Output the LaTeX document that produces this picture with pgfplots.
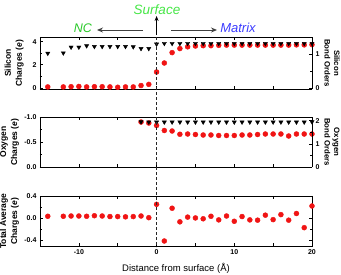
\documentclass[border=0pt]{standalone}
\usepackage{fontspec}
\setmainfont{Liberation Sans}
\usepackage{pgfplots}
\pgfplotsset{compat=1.18}
\usetikzlibrary{arrows.meta}

\definecolor{ptred}{RGB}{240,20,20}
\definecolor{ncgreen}{RGB}{40,200,40}
\definecolor{sfgreen}{RGB}{70,230,70}
\definecolor{mxblue}{RGB}{60,60,255}

\pgfplotsset{
 base/.style={scale only axis, width=272pt, xmin=-15, xmax=20, tick align=inside,
   xtick={-10,-5,...,20}, xticklabels={},
   tick label style={font=\bfseries\fontsize{7}{8}\selectfont},
   /pgf/number format/assume math mode=true,
   major tick length=3pt, minor tick length=2pt,
   axis line style={line width=0.9pt}, every tick/.style={line width=0.6pt, black},
 },
 leftlab/.style={every axis y label/.style={at={(axis description cs:#1,0.5)}, rotate=90, anchor=center,
   font=\bfseries\fontsize{8.5}{11}\selectfont, align=center}},
 rightlab/.style={every axis y label/.style={at={(axis description cs:1.074,0.5)}, rotate=-90, anchor=center,
   font=\bfseries\fontsize{7.8}{9.5}\selectfont, align=center}},
 circ/.style={only marks, mark=*, mark size=2.5pt, mark options={fill=ptred, draw=ptred}},
 tri/.style={only marks, mark=triangle*, mark size=2.4pt, mark options={fill=black, draw=black, rotate=180}},
}

\begin{document}
\begin{tikzpicture}
\useasboundingbox (0,0) rectangle (341pt,274pt);

% ---------- Panel 1: Silicon ----------
\begin{axis}[base, leftlab=-0.095, at={(40pt,185pt)}, anchor=south west, height=52pt,
  axis y line*=left, ymin=-0.1, ymax=4.4, ytick={0,2,4}, minor ytick={1,3},
  ylabel={Silicon\\Charges (\textit{e})}]
\addplot[circ] coordinates {
(-14,0.08) (-12,0.08) (-11,0.1) (-10,0.12) (-9,0.08) (-8,0.1) (-7,0.1) (-6,0.08)
(-5,0.05) (-4,0.08) (-3,0.08) (-2,0.2) (-1,0.3) (0,1.37) (1,2.15) (2,3.05) (3,3.4)
(4,3.55) (5,3.62) (6,3.65) (7,3.65) (8,3.68) (9,3.7) (10,3.7) (11,3.7) (12,3.7)
(13,3.7) (14,3.7) (15,3.7) (16,3.7) (17,3.7) (18,3.72) (19,3.72) (20,3.74)};
\end{axis}
\begin{axis}[base, rightlab, at={(40pt,185pt)}, anchor=south west, height=52pt,
  axis y line*=right, axis x line=none, ymin=-0.03, ymax=1.5, ytick={0,1}, minor ytick={0.5},
  ylabel={Silicon\\Bond Orders}]
\addplot[tri] coordinates {
(-14,1.02) (-12,1.03) (-11,1.2) (-10,1.2) (-9,1.24) (-8,1.22) (-7,1.22) (-6,1.22)
(-5,1.22) (-4,1.22) (-3,1.21) (-2,1.16) (-1,1.16) (0,1.29) (1,1.31) (2,1.31) (3,1.31)
(4,1.31) (5,1.31) (6,1.31) (7,1.31) (8,1.31) (9,1.31) (10,1.31) (11,1.31) (12,1.31)
(13,1.31) (14,1.31) (15,1.31) (16,1.31) (17,1.31) (18,1.31) (19,1.31) (20,1.31)};
\end{axis}

% ---------- Panel 2: Oxygen ----------
\begin{axis}[base, leftlab=-0.112, at={(40pt,107pt)}, anchor=south west, height=50pt,
  axis y line*=left, y dir=reverse, ymin=-1.0, ymax=0.0, ytick={-1,-0.5,0}, minor ytick={-0.75,-0.25},
  yticklabels={-1.0,-0.5,0.0},
  ylabel={Oxygen\\Charges (\textit{e})}]
\addplot[circ] coordinates {
(-2,-0.9) (-1,-0.88) (0,-0.83) (1,-0.73) (2,-0.72) (3,-0.655) (4,-0.66) (5,-0.65)
(6,-0.64) (7,-0.64) (8,-0.63) (9,-0.63) (10,-0.63) (11,-0.64) (12,-0.64) (13,-0.65)
(14,-0.66) (15,-0.66) (16,-0.66) (17,-0.62) (18,-0.66) (19,-0.66) (20,-0.66)};
\end{axis}
\begin{axis}[base, rightlab, at={(40pt,107pt)}, anchor=south west, height=50pt,
  axis y line*=right, axis x line=none, ymin=0, ymax=2.16, ytick={0,1,2}, minor ytick={0.5,1.5},
  ylabel={Oxygen\\Bond Orders}]
\addplot[tri] coordinates {
(-2,1.95) (-1,1.94) (0,1.94) (1,1.94) (2,1.94) (3,1.94) (4,1.94) (5,1.94) (6,1.94)
(7,1.94) (8,1.94) (9,1.94) (10,1.94) (11,1.94) (12,1.94) (13,1.94) (14,1.94) (15,1.94)
(16,1.94) (17,1.94) (18,1.94) (19,1.94) (20,1.95)};
\end{axis}

% ---------- Panel 3: Total ----------
\begin{axis}[base, leftlab=-0.112, at={(40pt,28pt)}, anchor=south west, height=50pt,
  ymin=-0.5, ymax=0.4, ytick={-0.4,0,0.4}, minor ytick={-0.2,0.2},
  yticklabels={-0.4,0.0,0.4},
  xticklabels={-10,,0,,10,,20},
  ylabel={Total Average\\Charges (\textit{e})},
  xlabel={Distance from surface (Å)},
  xlabel style={at={(axis description cs:0.5,-0.44)}, anchor=center, font=\fontsize{9.5}{11}\selectfont}]
\addplot[circ] coordinates {
(-14,0.035) (-12,0.035) (-11,0.04) (-10,0.04) (-9,0.035) (-8,0.045) (-7,0.04) (-6,0.03)
(-5,0.03) (-4,0.025) (-3,0.03) (-2,0.04) (-1,0.01) (0,0.25) (1,-0.41) (2,0.18) (3,-0.065)
(4,0.02) (5,0.005) (6,-0.01) (7,0.035) (8,-0.03) (9,0.04) (10,-0.055) (11,0.03)
(12,-0.03) (13,-0.035) (14,0.055) (15,-0.025) (16,0.065) (17,-0.035) (18,0.085)
(19,-0.17) (20,0.22)};
\end{axis}

% ---------- annotations ----------
\draw[line width=1.1pt, black!85, dash pattern=on 3pt off 2pt] (156.57pt,237pt) -- (156.57pt,27pt);
\draw[line width=1pt, black, -{Stealth[length=5pt,width=4pt]}] (156.57pt,239pt) -- (156.57pt,258pt);
\draw[line width=1pt, black!75, -{Stealth[length=6pt,width=5pt]}] (143pt,244pt) -- (97pt,244pt);
\draw[line width=1pt, black!75, -{Stealth[length=6pt,width=5pt]}] (171pt,244pt) -- (217pt,244pt);
\node[text=ncgreen, font=\itshape\fontsize{12.5}{14}\selectfont] at (83pt,246pt) {NC};
\node[text=mxblue, font=\itshape\fontsize{13}{14}\selectfont] at (238pt,246pt) {Matrix};
\node[text=sfgreen, font=\itshape\fontsize{13.5}{15}\selectfont] at (157pt,264pt) {Surface};
\end{tikzpicture}
\end{document}
